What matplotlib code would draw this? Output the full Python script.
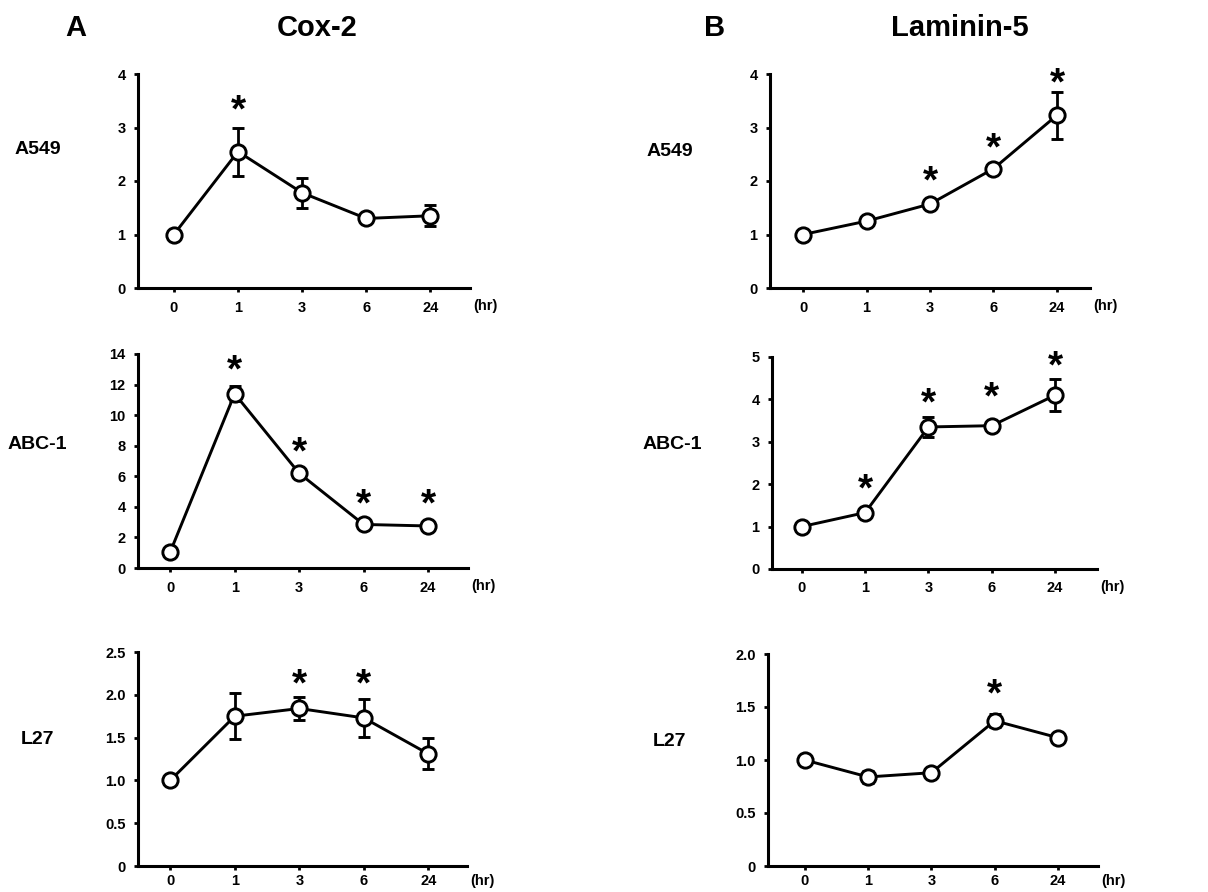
import matplotlib
matplotlib.use('Agg')
import matplotlib.pyplot as plt

plt.rcParams['font.family'] = ['Liberation Sans', 'DejaVu Sans']
plt.rcParams['font.weight'] = 'bold'

# Данные: время (ч) и относительная экспрессия
hours = ['0', '1', '3', '6', '24']

cox2_a549 = [1.0, 2.55, 1.78, 1.30, 1.35]
cox2_a549_err = [0.05, 0.45, 0.28, 0.05, 0.20]
cox2_a549_star = [None, 3.45, None, None, None]

cox2_abc1 = [1.05, 11.4, 6.2, 2.85, 2.75]
cox2_abc1_err = [0.1, 0.5, 0.2, 0.1, 0.1]
cox2_abc1_star = [None, 13.4, 8.0, 4.6, 4.6]

cox2_l27 = [1.0, 1.75, 1.84, 1.73, 1.31]
cox2_l27_err = [0.03, 0.27, 0.13, 0.22, 0.18]
cox2_l27_star = [None, None, 2.2, 2.2, None]

lam_a549 = [1.0, 1.25, 1.57, 2.23, 3.23]
lam_a549_err = [0.03, 0.05, 0.06, 0.05, 0.44]
lam_a549_star = [None, None, 2.12, 2.74, 3.95]

lam_abc1 = [1.0, 1.33, 3.35, 3.38, 4.1]
lam_abc1_err = [0.03, 0.05, 0.23, 0.05, 0.38]
lam_abc1_star = [None, 2.05, 4.08, 4.2, 4.95]

lam_l27 = [1.0, 0.84, 0.88, 1.37, 1.21]
lam_l27_err = [0.02, 0.06, 0.02, 0.06, 0.02]
lam_l27_star = [None, None, None, 1.68, None]

W, H = 1208, 892

# (значения, ошибки, звёздочки, подпись строки, рамка в пикселях, xlim, yticks, подписи,
#  позиция подписи, отступ подписей оси x)
panels = [
    (cox2_a549, cox2_a549_err, cox2_a549_star, 'A549', (138, 74, 470, 288), (-0.56, 4.62),
     [0, 1, 2, 3, 4], ['0', '1', '2', '3', '4'], (38, 150), 6),
    (cox2_abc1, cox2_abc1_err, cox2_abc1_star, 'ABC-1', (138, 354, 468, 568), (-0.5, 4.62),
     [0, 2, 4, 6, 8, 10, 12, 14], ['0', '2', '4', '6', '8', '10', '12', '14'], (37, 445), 6),
    (cox2_l27, cox2_l27_err, cox2_l27_star, 'L27', (138, 652, 467, 866), (-0.5, 4.6),
     [0, 0.5, 1.0, 1.5, 2.0, 2.5], ['0', '0.5', '1.0', '1.5', '2.0', '2.5'], (37, 740), 3),
    (lam_a549, lam_a549_err, lam_a549_star, 'A549', (770, 74, 1090, 288), (-0.52, 4.52),
     [0, 1, 2, 3, 4], ['0', '1', '2', '3', '4'], (670, 152), 6),
    (lam_abc1, lam_abc1_err, lam_abc1_star, 'ABC-1', (772, 357, 1097, 569), (-0.47, 4.66),
     [0, 1, 2, 3, 4, 5], ['0', '1', '2', '3', '4', '5'], (672, 445), 6),
    (lam_l27, lam_l27_err, lam_l27_star, 'L27', (768, 654, 1098, 866), (-0.58, 4.63),
     [0, 0.5, 1.0, 1.5, 2.0], ['0', '0.5', '1.0', '1.5', '2.0'], (670, 742), 3),
]

fig = plt.figure(figsize=(W / 100, H / 100), dpi=100)

for vals, errs, stars, label, box, xlim, yt, ytl, lab_xy, xpad in panels:
    x0, y0, x1, y1 = box
    ax = fig.add_axes([x0 / W, 1 - y1 / H, (x1 - x0) / W, (y1 - y0) / H])
    xs = list(range(len(hours)))
    ax.errorbar(xs, vals, yerr=errs, fmt='-o', color='black', lw=2.1,
                elinewidth=2.0, capsize=4, capthick=2.0,
                markersize=11, markerfacecolor='white', markeredgecolor='black',
                markeredgewidth=2.1, zorder=3)
    for x, s in zip(xs, stars):
        if s is not None:
            ax.annotate('*', xy=(x, s), xytext=(0, -13), textcoords='offset points',
                        ha='center', va='baseline', fontsize=28, fontweight='bold')
    ax.set_xlim(*xlim)
    ax.set_ylim(yt[0], yt[-1])
    ax.set_xticks(xs)
    ax.set_xticklabels(hours)
    ax.set_yticks(yt)
    ax.set_yticklabels(ytl)
    for sp in ['top', 'right']:
        ax.spines[sp].set_visible(False)
    for sp in ['left', 'bottom']:
        ax.spines[sp].set_linewidth(2.2)
    ax.spines['left'].set_zorder(4)
    ax.tick_params(axis='both', direction='out', length=3, width=2,
                   labelsize=10.5, pad=6)
    ax.tick_params(axis='x', pad=xpad)
    for t in ax.get_xticklabels() + ax.get_yticklabels():
        t.set_fontweight('bold')
    ax.annotate('(hr)', xy=(1, 0), xycoords='axes fraction', xytext=(15, -12 - xpad),
                textcoords='offset pixels', ha='center', va='center',
                fontsize=10.5, fontweight='bold')
    fig.text(lab_xy[0] / W, 1 - lab_xy[1] / H, label, ha='center', va='center',
             fontsize=14, fontweight='bold')

fig.text(76 / W, 1 - 28 / H, 'A', ha='center', va='center', fontsize=21, fontweight='bold')
fig.text(317 / W, 1 - 28 / H, 'Cox-2', ha='center', va='center', fontsize=21, fontweight='bold')
fig.text(715 / W, 1 - 28 / H, 'B', ha='center', va='center', fontsize=21, fontweight='bold')
fig.text(960 / W, 1 - 28 / H, 'Laminin-5', ha='center', va='center', fontsize=21, fontweight='bold')

fig.savefig('out.png', dpi=100, facecolor='white')
